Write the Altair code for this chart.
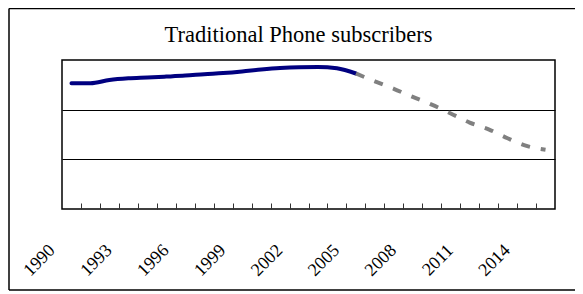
import altair as alt
import pandas as pd

# Actual subscribers (solid navy line), index units (gridlines at 50 / 100 / 150)
years_actual = [1990, 1991, 1992, 1993, 1994, 1995, 1996, 1997,
                1998, 1999, 2000, 2001, 2002, 2003, 2004, 2005]
subs_actual = [126.6, 126.6, 129.9, 131.6, 132.4, 133.3, 134.3, 135.7,
               136.9, 138.5, 140.4, 141.9, 142.7, 142.9, 141.6, 136.4]

# Forecast (dashed grey line)
years_forecast = [2005, 2006, 2007, 2008, 2009, 2010, 2011, 2012, 2013, 2014, 2015]
subs_forecast = [136.4, 128.5, 121.0, 112.8, 105.1, 96.2, 87.0, 80.2, 71.2, 63.5, 59.6]

# Axis text / ticks
label_years = [1990, 1993, 1996, 1999, 2002, 2005, 2008, 2011, 2014]
tick_years = [1990.5, 1991.5, 1992.5, 1993.5, 1994.5, 1995.5, 1996.5, 1997.5,
              1998.5, 1999.5, 2000.5, 2001.5, 2002.5, 2003.5, 2004.5, 2005.5,
              2006.5, 2007.5, 2008.5, 2009.5, 2010.5, 2011.5, 2012.5, 2013.5, 2014.5]
grid_values = [50, 100]

actual_df = pd.DataFrame({"year": years_actual, "value": subs_actual})
forecast_df = pd.DataFrame({"year": years_forecast, "value": subs_forecast})

xscale = alt.Scale(domain=[1989.5, 2015.5], nice=False, zero=False)
yscale = alt.Scale(domain=[0, 150], nice=False, zero=True)

tick_axis = alt.Axis(orient="bottom", values=tick_years, labels=False, domain=False,
                     grid=False, ticks=True, tickSize=6, offset=-6,
                     tickColor="#333333", tickWidth=1, title=None)
label_axis = alt.Axis(orient="bottom", values=label_years, ticks=False, domain=False,
                      grid=False, labelAngle=-45, labelAlign="right",
                      labelBaseline="alphabetic", labelFont="Liberation Serif",
                      labelFontSize=18, labelColor="black", labelPadding=42,
                      labelOffset=-16, labelOverlap=False,
                      labelFlush=False, format="d", title=None)
y_axis = alt.Axis(values=grid_values, labels=False, ticks=False, domain=False,
                  grid=True, gridColor="black", gridWidth=1, gridOpacity=1, title=None)

solid = alt.Chart(actual_df).mark_line(
    color="#000080", strokeWidth=4, interpolate="monotone", strokeCap="round"
).encode(
    x=alt.X("year:Q", scale=xscale, axis=tick_axis),
    y=alt.Y("value:Q", scale=yscale, axis=y_axis),
)

dashed = alt.Chart(forecast_df).mark_line(
    color="#808080", strokeWidth=4, interpolate="monotone", strokeDash=[9, 11],
    strokeCap="butt"
).encode(
    x=alt.X("year:Q", scale=xscale, axis=label_axis),
    y=alt.Y("value:Q", scale=yscale, axis=y_axis),
)

# Outer chart frame (left, top, bottom edges; the right edge lies off-page)
frame_df = pd.DataFrame({"k": [0]})
frame_top = alt.Chart(frame_df).mark_rule(color="black", strokeWidth=1.5, clip=False).encode(
    x=alt.value(-53), x2=alt.value(700), y=alt.value(-51.5)
)
frame_bottom = alt.Chart(frame_df).mark_rule(color="black", strokeWidth=1.5, clip=False).encode(
    x=alt.value(-53), x2=alt.value(700), y=alt.value(230)
)
frame_left = alt.Chart(frame_df).mark_rule(color="black", strokeWidth=1.5, clip=False).encode(
    x=alt.value(-53), y=alt.value(-51.5), y2=alt.value(230)
)

chart = alt.layer(frame_top, frame_bottom, frame_left, solid, dashed).resolve_axis(
    x="independent"
).properties(
    width=493,
    height=149,
    title=alt.TitleParams(
        "Traditional Phone subscribers", font="Liberation Serif", fontSize=22.5,
        fontWeight="normal", color="black", frame="group", anchor="middle",
        dx=-10, dy=72.8, offset=16, baseline="alphabetic"
    ),
    autosize=alt.AutoSizeParams(type="none"),
    padding={"left": 54, "top": 52, "right": 20, "bottom": 82},
).configure(background="white").configure_view(stroke="black", strokeWidth=1.5)

chart.save("out.html", embed_options={"renderer": "svg", "actions": False})
